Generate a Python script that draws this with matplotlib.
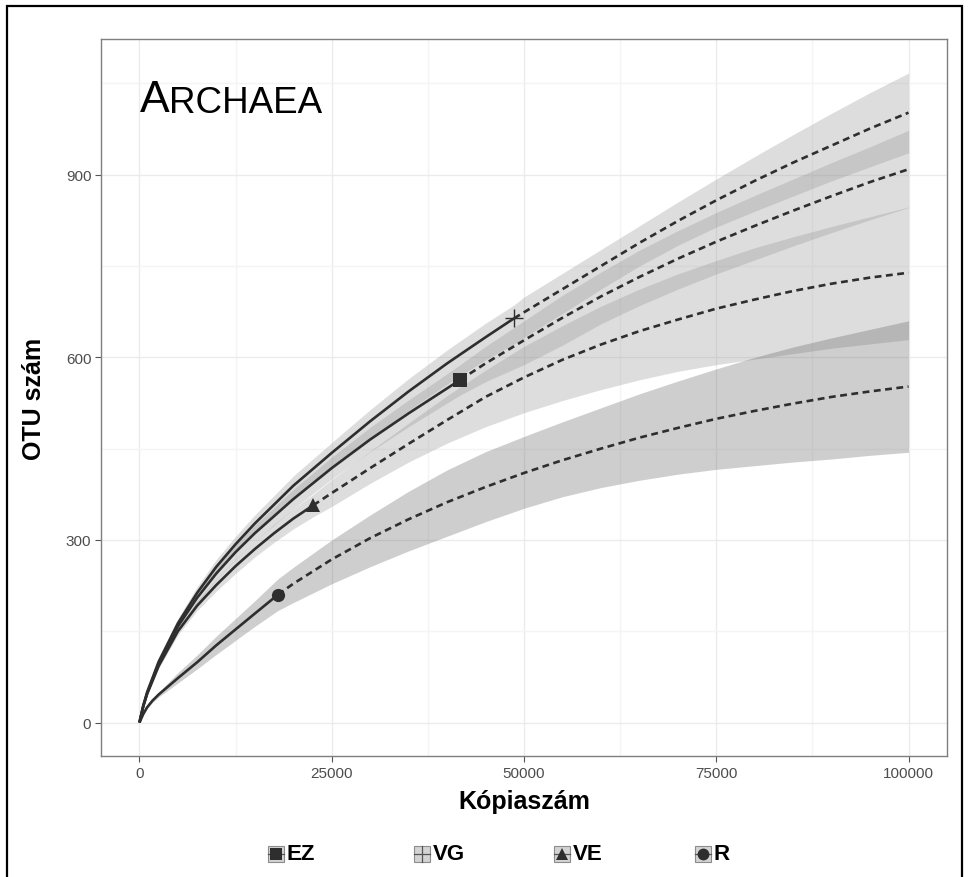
import matplotlib
matplotlib.use('Agg')
import matplotlib.pyplot as plt
from matplotlib.patches import Rectangle
from matplotlib.lines import Line2D

plt.rcParams['font.family'] = ['Liberation Sans', 'DejaVu Sans']

sites = ['EZ', 'VG', 'VE', 'R']

# interpolated (observed) part of each curve: x, S, lower, upper
ez_rx = [0, 500, 1000, 2500, 5000, 7500, 10000, 12500, 15000, 20000, 25000, 30000, 35000, 40000, 41700]
ez_ry = [0, 27, 48, 97, 158, 205, 245, 280, 311, 367, 418, 465, 508, 549, 563]
ez_rlo = [0, 26, 46, 93, 152, 197, 235, 268, 298, 351, 400, 445, 486, 525, 538]
ez_rhi = [0, 28, 50, 101, 164, 213, 255, 292, 324, 383, 436, 485, 530, 573, 588]
# extrapolated part
ez_ex = [41700, 45000, 50000, 55000, 60000, 65000, 70000, 75000, 80000, 85000, 90000, 95000, 100000]
ez_ey = [563, 590, 628, 665, 700, 732, 762, 790, 816, 841, 865, 888, 909]
ez_elo = [538, 560, 588, 620, 655, 685, 712, 737, 760, 783, 805, 826, 846]
ez_ehi = [588, 618, 660, 702, 740, 776, 808, 838, 866, 893, 920, 946, 973]

vg_rx = [0, 500, 1000, 2500, 5000, 7500, 10000, 12500, 15000, 20000, 25000, 30000, 35000, 40000, 45000, 48700]
vg_ry = [0, 28, 50, 100, 163, 213, 256, 293, 327, 389, 443, 495, 544, 590, 633, 664]
vg_rlo = [0, 27, 48, 96, 156, 204, 244, 280, 312, 370, 420, 468, 513, 556, 596, 622]
vg_rhi = [0, 29, 52, 105, 171, 223, 268, 306, 341, 405, 460, 514, 565, 612, 656, 686]
vg_ex = [48700, 50000, 55000, 60000, 65000, 70000, 75000, 80000, 85000, 90000, 95000, 100000]
vg_ey = [664, 674, 712, 750, 788, 824, 858, 890, 920, 948, 976, 1002]
vg_elo = [622, 633, 672, 712, 750, 784, 814, 840, 865, 890, 913, 936]
vg_ehi = [686, 699, 738, 777, 816, 855, 893, 930, 966, 1001, 1035, 1067]

ve_rx = [0, 500, 1000, 2500, 5000, 7500, 10000, 12500, 15000, 17500, 20000, 22600]
ve_ry = [0, 27, 47, 93, 150, 192, 226, 257, 285, 311, 335, 357]
ve_rlo = [0, 26, 45, 89, 144, 184, 216, 245, 272, 296, 318, 338]
ve_rhi = [0, 28, 49, 97, 156, 200, 236, 269, 298, 326, 351, 375]
ve_ex = [22600, 25000, 30000, 35000, 40000, 45000, 50000, 55000, 60000, 65000, 70000,
         75000, 80000, 85000, 90000, 95000, 100000]
ve_ey = [357, 377, 418, 458, 497, 535, 567, 596, 621, 643, 662, 680, 695, 709, 721, 731, 739]
ve_elo = [338, 355, 393, 428, 459, 486, 509, 529, 547, 563, 577, 588, 597, 606, 615, 622, 629]
ve_ehi = [375, 399, 446, 492, 537, 579, 618, 652, 684, 712, 737, 759, 780, 798, 815, 831, 847]

r_rx = [0, 500, 1000, 1700, 2500, 5000, 7500, 10000, 12500, 15000, 18000]
r_ry = [0, 14, 25, 36, 46, 73, 99, 127, 153, 179, 210]
r_rlo = [0, 13, 23, 33, 42, 65, 88, 112, 135, 158, 184]
r_rhi = [0, 15, 27, 39, 50, 82, 111, 142, 171, 200, 236]
r_ex = [18000, 20000, 25000, 30000, 35000, 40000, 45000, 50000, 55000, 60000, 65000,
        70000, 75000, 80000, 85000, 90000, 95000, 100000]
r_ey = [210, 228, 268, 303, 334, 362, 387, 410, 431, 450, 468, 484, 499, 512, 524, 535, 544, 552]
r_elo = [184, 197, 228, 256, 282, 306, 330, 352, 371, 386, 398, 408, 416, 422, 428, 433, 439, 444]
r_ehi = [236, 255, 300, 341, 380, 415, 445, 470, 494, 517, 540, 561, 581, 600, 617, 632, 646, 660]

curves = {
    'EZ': (ez_rx, ez_ry, ez_rlo, ez_rhi, ez_ex, ez_ey, ez_elo, ez_ehi),
    'VG': (vg_rx, vg_ry, vg_rlo, vg_rhi, vg_ex, vg_ey, vg_elo, vg_ehi),
    'VE': (ve_rx, ve_ry, ve_rlo, ve_rhi, ve_ex, ve_ey, ve_elo, ve_ehi),
    'R': (r_rx, r_ry, r_rlo, r_rhi, r_ex, r_ey, r_elo, r_ehi),
}
markers = {'EZ': 's', 'VG': '+', 'VE': '^', 'R': 'o'}
msizes = {'EZ': 9.5, 'VG': 13, 'VE': 10, 'R': 9.5}
fills = {'EZ': '#919191', 'VG': '#919191', 'VE': '#919191', 'R': '#5f5f5f'}

W, H = 968, 878
fig = plt.figure(figsize=(W / 100, H / 100), dpi=100)
ax = fig.add_axes([101 / W, 1 - 757 / H, 846 / W, 717 / H])

linec = '#2e2e2e'
for s in sites:
    rx, ry, rlo, rhi, ex, ey, elo, ehi = curves[s]
    ax.fill_between(rx + ex[1:], rlo + elo[1:], rhi + ehi[1:], color=fills[s], alpha=0.3, lw=0)
for s in sites:
    rx, ry, rlo, rhi, ex, ey, elo, ehi = curves[s]
    ax.plot(rx, ry, color=linec, lw=1.9, solid_capstyle='butt', solid_joinstyle='round')
    ax.plot(ex, ey, color=linec, lw=1.9, dashes=(2.6, 1.7))
for s in sites:
    rx, ry = curves[s][0], curves[s][1]
    if markers[s] == '+':
        ax.plot(rx[-1], ry[-1], marker='+', ms=msizes[s], mew=1.0, color=linec, zorder=5)
    else:
        ax.plot(rx[-1], ry[-1], marker=markers[s], ms=msizes[s], mew=0, color=linec, zorder=5)

ax.set_xlim(-5000, 105000)
ax.set_ylim(-55, 1123)
ax.set_xticks([0, 25000, 50000, 75000, 100000])
ax.set_xticks([12500, 37500, 62500, 87500], minor=True)
ax.set_yticks([0, 300, 600, 900])
ax.set_yticks([150, 450, 750, 1050], minor=True)
ax.set_xticklabels(['0', '25000', '50000', '75000', '100000'])
ax.grid(which='major', color='#ebebeb', lw=1.0, zorder=0)
ax.grid(which='minor', color='#f4f4f4', lw=1.0, zorder=0)
ax.set_axisbelow(True)
ax.tick_params(which='major', length=4, color='#555555', width=0.8, labelsize=11,
               labelcolor='#4d4d4d', pad=3)
ax.tick_params(which='minor', length=0)
for sp in ax.spines.values():
    sp.set_color('#7f7f7f')
    sp.set_linewidth(1.0)

ax.set_xlabel('Kópiaszám', fontsize=18, fontweight='bold', labelpad=7)
ax.set_ylabel('OTU szám', fontsize=18, fontweight='bold', labelpad=14)

t1 = ax.text(0, 990, 'A', fontsize=32, va='bottom', ha='left')
ax.annotate('RCHAEA', xy=(1, 0), xycoords=t1, fontsize=26.5, va='bottom', ha='left')

# legend at the bottom
key_x = [275.5, 422, 562, 703]
key_y = 855
for s, kx in zip(sites, key_x):
    fig.add_artist(Rectangle(((kx - 8) / W, 1 - (key_y + 8) / H), 16 / W, 16 / H,
                             transform=fig.transFigure, facecolor='#d3d3d3',
                             edgecolor='#8c8c8c', lw=0.8))
    fig.add_artist(Line2D([(kx - 8) / W, (kx + 8) / W], [1 - key_y / H, 1 - key_y / H],
                          transform=fig.transFigure, color='#555555', lw=0.9))
    if markers[s] == '+':
        fig.add_artist(Line2D([kx / W, kx / W], [1 - (key_y - 8) / H, 1 - (key_y + 8) / H],
                              transform=fig.transFigure, color='#555555', lw=0.9))
    else:
        fig.add_artist(Line2D([kx / W], [1 - key_y / H], transform=fig.transFigure,
                              marker=markers[s], ms=8.5, mew=0, color=linec))
    fig.text((kx + 10.5) / W, 1 - key_y / H, s, fontsize=16, fontweight='bold',
             va='center', ha='left')

# outer frame
fig.add_artist(Rectangle((7 / W, -0.01), 955 / W, 1.01 - 7 / H, transform=fig.transFigure,
                         fill=False, edgecolor='black', lw=1.6))

fig.savefig('out.png', dpi=100)
